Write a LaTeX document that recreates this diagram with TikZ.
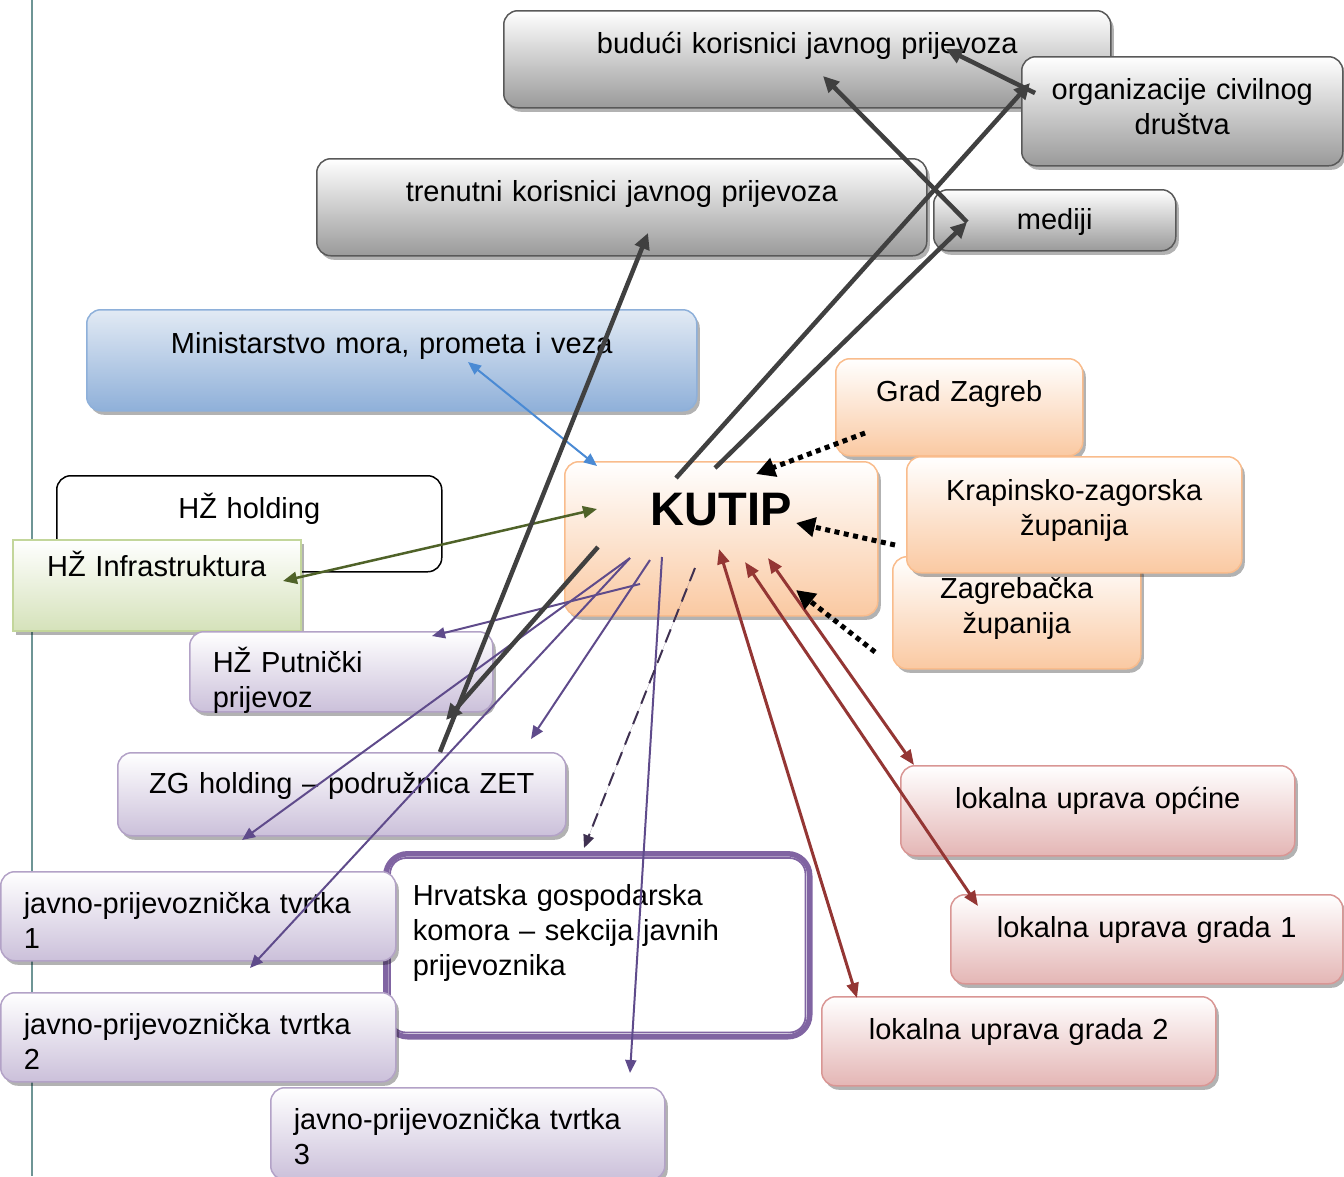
\documentclass[tikz,border=0pt]{standalone}
\usepackage{fontspec}
\setmainfont{Liberation Sans}
\usetikzlibrary{arrows.meta,shadows}

\definecolor{grayline}{HTML}{595959}
\definecolor{grayfill}{HTML}{9A9A9A}
\definecolor{blueline}{HTML}{8EB0DA}
\definecolor{bluetop}{HTML}{E2EAF4}
\definecolor{bluefill}{HTML}{8FB0D9}
\definecolor{orangeline}{HTML}{F9BC8C}
\definecolor{orangefill}{HTML}{FAC9A2}
\definecolor{greenline}{HTML}{C3D69B}
\definecolor{greenfill}{HTML}{D5E2BA}
\definecolor{purpleline}{HTML}{B3A2C7}
\definecolor{purplefill}{HTML}{CBC0DA}
\definecolor{redline}{HTML}{D99694}
\definecolor{redfill}{HTML}{E4B6B5}
\definecolor{hgkline}{HTML}{8064A2}
\definecolor{marginline}{HTML}{6E9595}
\definecolor{darklinecol}{HTML}{404040}
\definecolor{bluelinecol}{HTML}{4A8AD4}
\definecolor{greenlinecol}{HTML}{4F6228}
\definecolor{purplelinecol}{HTML}{5F4B8B}
\definecolor{dashlinecol}{HTML}{3F3151}
\definecolor{redlinecol}{HTML}{943634}

\begin{document}
\begin{tikzpicture}[x=1pt,y=-1pt,
  every node/.style={inner sep=0pt,font=\fontsize{29}{35}\selectfont},
  block/.style={anchor=north west,rounded corners=14pt,line width=1.5pt,align=center,
    drop shadow={shadow xshift=3pt,shadow yshift=-4pt,opacity=.3,fill=black}},
  leftblock/.style={align=left,inner xsep=23pt},
  grayblock/.style={block,draw=grayline,top color=white,bottom color=grayfill},
  blueblock/.style={block,draw=blueline,top color=bluetop,bottom color=bluefill},
  orangeblock/.style={block,draw=orangeline,top color=white,bottom color=orangefill},
  greenblock/.style={block,rounded corners=0pt,draw=greenline,top color=white,bottom color=greenfill},
  purpleblock/.style={block,draw=purpleline,top color=white,bottom color=purplefill},
  redblock/.style={block,draw=redline,top color=white,bottom color=redfill},
  darklink/.style={draw=darklinecol,line width=4.5pt,-{Triangle[length=16pt,width=15pt]}},
  thinlink/.style={line width=2pt,-{Triangle[length=13pt,width=11pt]}},
  bluelink/.style={thinlink,draw=bluelinecol,fill=bluelinecol,{Triangle[length=13pt,width=11pt]}-{Triangle[length=13pt,width=11pt]}},
  greenlink/.style={thinlink,line width=2.5pt,draw=greenlinecol,fill=greenlinecol,{Triangle[length=14pt,width=12pt]}-{Triangle[length=14pt,width=12pt]}},
  purplelink/.style={thinlink,draw=purplelinecol,fill=purplelinecol},
  dashlink/.style={thinlink,draw=dashlinecol,fill=dashlinecol,dash pattern=on 14pt off 8pt},
  redlink/.style={thinlink,line width=3pt,draw=redlinecol,fill=redlinecol,{Triangle[length=15pt,width=12pt]}-{Triangle[length=15pt,width=12pt]}},
  dotlink/.style={draw=black,line width=5pt,dash pattern=on 5pt off 4.5pt,-{Triangle[length=19pt,width=19pt]}}
]
\useasboundingbox (0,0) rectangle (1344,1176);
\draw[marginline,line width=1.5pt] (32,0) -- (32,1176);

% users and public
\node[grayblock,text width=607pt,text height=43pt,text depth=54pt] (buduci) at (503,10) {budući korisnici javnog prijevoza};
\node[grayblock,text width=321pt,text height=43pt,text depth=66pt] (civil) at (1021,56) {organizacije civilnog\\društva};
\node[grayblock,text width=610pt,text height=43pt,text depth=54pt] (trenutni) at (316,158) {trenutni korisnici javnog prijevoza};
\node[grayblock,text width=242pt,text height=40pt,text depth=21pt] (mediji) at (933,189) {mediji};

% state and regions
\node[blueblock,text width=610pt,text height=44pt,text depth=57pt] (ministarstvo) at (86,309) {Ministarstvo mora, prometa i veza};
\node[orangeblock,text width=247pt,text height=43pt,text depth=54pt] (zagreb) at (835,358) {Grad Zagreb};
\node[orangeblock,text width=313pt,text height=64pt,text depth=90pt,font=\fontsize{47}{50}\selectfont\bfseries] (kutip) at (564,461) {KUTIP};
\node[orangeblock,text width=248pt,text height=42pt,text depth=70pt] (zagrebacka) at (892,556) {Zagrebačka\\županija};
\node[orangeblock,text width=335pt,text height=44pt,text depth=72pt] (krapinska) at (906,456) {Krapinsko-zagorska\\županija};

% carriers
\node[anchor=north west,draw,line width=1.5pt,rounded corners=14pt,fill=white,text width=385pt,align=center,text height=43pt,text depth=53pt] (hzholding) at (56,475) {HŽ holding};
\node[greenblock,text width=288pt,text height=37pt,text depth=54pt] (hzinfra) at (12,539) {HŽ Infrastruktura};
\node[purpleblock,leftblock,text width=257pt,text height=41pt,text depth=39pt] (hzpp) at (189,631) {HŽ Putnički\\prijevoz};
\node[purpleblock,text width=448pt,text height=41pt,text depth=42pt] (zet) at (117,752) {ZG holding – podružnica ZET};
\node[anchor=north west,draw=hgkline,line width=5.5pt,rounded corners=22pt,fill=white,align=left,inner xsep=27pt,text width=370pt,text height=52pt,text depth=131pt] (hgk) at (383,851) {Hrvatska gospodarska\\komora – sekcija javnih\\prijevoznika};
\draw[hgkline,line width=1.8pt,rounded corners=16pt] ([shift={(7,7)}]hgk.north west) rectangle ([shift={(-7,-7)}]hgk.south east);
\node[purpleblock,leftblock,text width=349pt,text height=42pt,text depth=47pt] (tvrtka1) at (0,871) {javno-prijevoznička tvrtka\\1};
\node[purpleblock,leftblock,text width=349pt,text height=42pt,text depth=47pt] (tvrtka2) at (0,992) {javno-prijevoznička tvrtka\\2};
\node[purpleblock,leftblock,text width=348pt,text height=42pt,text depth=50pt] (tvrtka3) at (270,1087) {javno-prijevoznička tvrtka\\3};

% local government
\node[redblock,text width=394pt,text height=43pt,text depth=47pt] (opcine) at (900,765) {lokalna uprava općine};
\node[redblock,text width=392pt,text height=43pt,text depth=46pt] (grad1) at (950,894) {lokalna uprava grada 1};
\node[redblock,text width=394pt,text height=43pt,text depth=46pt] (grad2) at (821,996) {lokalna uprava grada 2};

% arrow ends
\coordinate (kCivil) at (676,478);
\coordinate (kMediji) at (715,468);
\coordinate (kPP) at (598,547);
\coordinate (kMin) at (597,466);
\coordinate (kInfra) at (597,509);
\coordinate (kZagreb) at (756,474);
\coordinate (kKrap) at (796,523);
\coordinate (kZagr) at (796,590);
\coordinate (kPurple) at (640,584);
\coordinate (kFan) at (630,558);
\coordinate (kZet) at (650,560);
\coordinate (kTvrtka) at (662,557);
\coordinate (kHgk) at (695,568);
\coordinate (kRed1) at (719,549);
\coordinate (kRed2) at (745,562);
\coordinate (kRed3) at (768,558);
\coordinate (civilIn) at (1030,83);
\coordinate (civilOut) at (1035,93);
\coordinate (medijiIn) at (967,222);
\coordinate (buduciIn) at (823,76);
\coordinate (buduciIn2) at (946,49);
\coordinate (trenutniIn) at (648,233);
\coordinate (zetTop) at (440,752);
\coordinate (hzppIn) at (446,720);
\coordinate (minIn) at (468,362);
\coordinate (infraIn) at (283,581);
\coordinate (zagrebOut) at (865,433);
\coordinate (krapOut) at (895,545);
\coordinate (zagrOut) at (875,652);
\coordinate (hzppIn2) at (432,636);
\coordinate (zetIn) at (242,840);
\coordinate (tvrtka1In) at (250,968);
\coordinate (zetIn2) at (531,739);
\coordinate (tvrtka3In) at (630,1073);
\coordinate (hgkIn) at (584,848);
\coordinate (opcineIn) at (914,765);
\coordinate (grad1In) at (978,906);
\coordinate (grad2In) at (857,998);

% connectors
\draw[bluelink] (minIn) -- (kMin);
\draw[greenlink] (infraIn) -- (kInfra);
\draw[purplelink] (kPurple) -- (hzppIn2);
\draw[purplelink] (kFan) -- (zetIn);
\draw[purplelink] (kFan) -- (tvrtka1In);
\draw[purplelink] (kZet) -- (zetIn2);
\draw[purplelink] (kTvrtka) -- (tvrtka3In);
\draw[dashlink] (kHgk) -- (hgkIn);
\draw[redlink] (kRed1) -- (grad2In);
\draw[redlink] (kRed2) -- (grad1In);
\draw[redlink] (kRed3) -- (opcineIn);
\draw[dotlink] (zagrebOut) -- (kZagreb);
\draw[dotlink] (krapOut) -- (kKrap);
\draw[dotlink] (zagrOut) -- (kZagr);
\draw[darklink] (zetTop) -- (trenutniIn);
\draw[darklink] (kPP) -- (hzppIn);
\draw[darklink] (kCivil) -- (civilIn);
\draw[darklink] (kMediji) -- (medijiIn);
\draw[darklink] (medijiIn) -- (buduciIn);
\draw[darklink] (civilOut) -- (buduciIn2);
\end{tikzpicture}
\end{document}
